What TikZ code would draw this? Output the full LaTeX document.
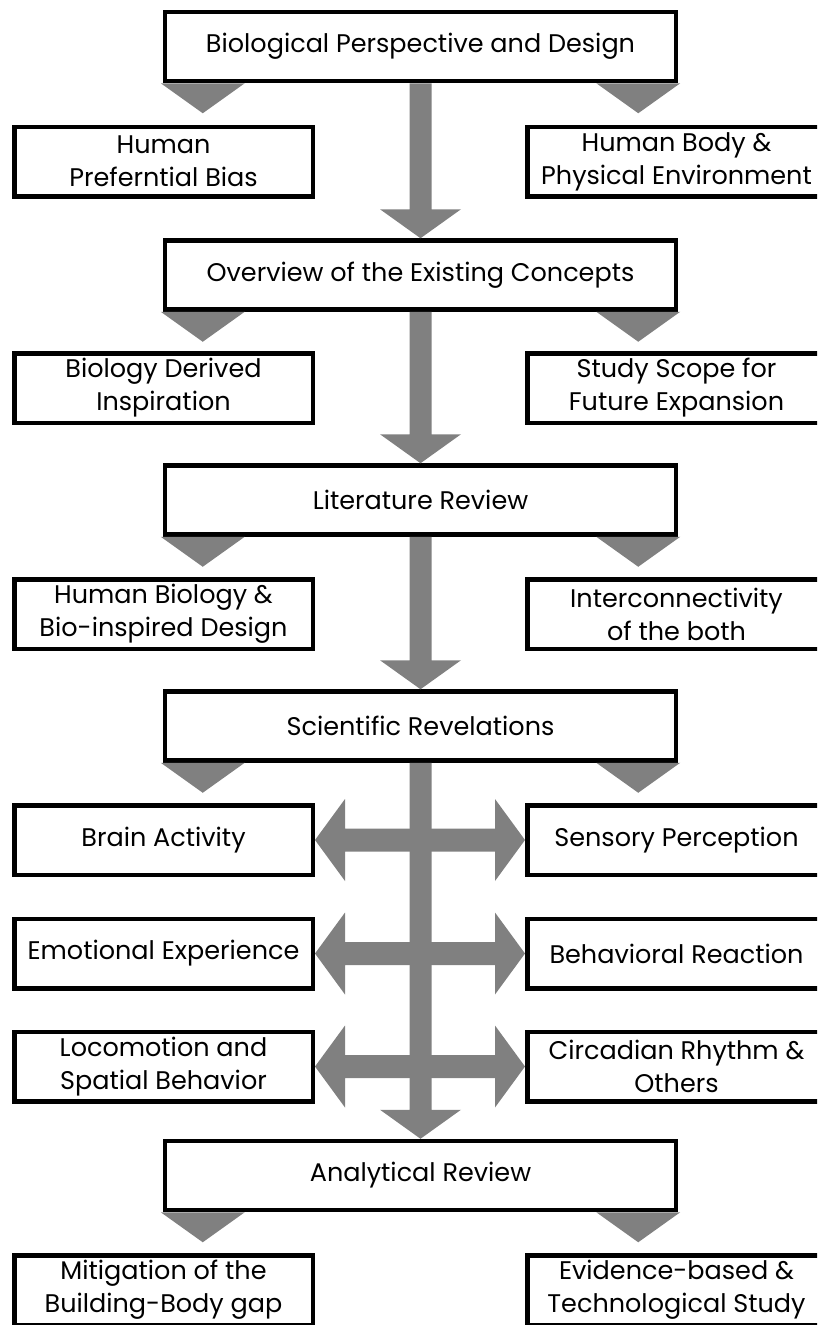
\documentclass[tikz,border=0pt]{standalone}
\usepackage{fontspec}
\setmainfont{Poppins}
\usetikzlibrary{calc}
\definecolor{flowgray}{HTML}{808080}

\begin{document}
\begin{tikzpicture}[x=1pt,y=-1pt,
    every node/.style={font=\fontsize{25.5}{33}\selectfont},
    mainbox/.style={draw,line width=4.5pt,fill=white,minimum width=511pt,minimum height=69pt,inner sep=0pt,align=center},
    sidebox/.style={draw,line width=4.5pt,fill=white,minimum width=298.5pt,minimum height=69.5pt,inner sep=0pt,align=center},
    flow/.style={fill=flowgray}]
        \useasboundingbox (0,0) rectangle (817,1325);
        \clip (0,0) rectangle (817,1325);
        % main column
        \node[mainbox] (bio) at (420.5,46.5) {Biological Perspective and Design};
        \node[mainbox] (overview) at (420.5,275) {Overview of the Existing Concepts};
        \node[mainbox] (litrev) at (420.5,500) {Literature Review};
        \node[mainbox] (scirev) at (420.5,726) {Scientific Revelations};
        \node[mainbox] (analytical) at (420.5,1175.5) {Analytical Review};
        % side boxes
        \node[sidebox] (prefbias) at (163.5,161.5) {Human\\Preferntial Bias};
        \node[sidebox] (bodyenv) at (676.5,161.5) {Human Body \&\\Physical Environment};
        \node[sidebox] (bioinsp) at (163.5,388) {Biology Derived\\Inspiration};
        \node[sidebox] (scope) at (676.5,388) {Study Scope for\\Future Expansion};
        \node[sidebox] (humbio) at (163.5,614) {Human Biology \&\\Bio-inspired Design};
        \node[sidebox] (interconn) at (676.5,614) {Interconnectivity\\of the both};
        \node[sidebox] (brain) at (163.5,840) {Brain Activity};
        \node[sidebox] (sensory) at (676.5,840) {Sensory Perception};
        \node[sidebox] (emotion) at (163.5,953.5) {Emotional Experience};
        \node[sidebox] (behavior) at (676.5,953.5) {Behavioral Reaction};
        \node[sidebox] (locomotion) at (163.5,1066.5) {Locomotion and\\Spatial Behavior};
        \node[sidebox] (circadian) at (676.5,1066.5) {Circadian Rhythm \&\\Others};
        \node[sidebox] (mitigation) at (163.5,1290) {Mitigation of the\\Building-Body gap};
        \node[sidebox] (evidence) at (676.5,1290) {Evidence-based \&\\Technological Study};
        % down arrows between main boxes
        \fill[flow] ($(bio.south)+(-11,0)$) -- ($(overview.north)+(-11,-29)$) -- ($(overview.north)+(-40.5,-29)$) -- (overview.north) -- ($(overview.north)+(40.5,-29)$) -- ($(overview.north)+(11,-29)$) -- ($(bio.south)+(11,0)$) -- cycle;
        \fill[flow] ($(overview.south)+(-11,0)$) -- ($(litrev.north)+(-11,-29)$) -- ($(litrev.north)+(-40.5,-29)$) -- (litrev.north) -- ($(litrev.north)+(40.5,-29)$) -- ($(litrev.north)+(11,-29)$) -- ($(overview.south)+(11,0)$) -- cycle;
        \fill[flow] ($(litrev.south)+(-11,0)$) -- ($(scirev.north)+(-11,-29)$) -- ($(scirev.north)+(-40.5,-29)$) -- (scirev.north) -- ($(scirev.north)+(40.5,-29)$) -- ($(scirev.north)+(11,-29)$) -- ($(litrev.south)+(11,0)$) -- cycle;
        \fill[flow] ($(scirev.south)+(-11,0)$) -- ($(analytical.north)+(-11,-29)$) -- ($(analytical.north)+(-40.5,-29)$) -- (analytical.north) -- ($(analytical.north)+(40.5,-29)$) -- ($(analytical.north)+(11,-29)$) -- ($(scirev.south)+(11,0)$) -- cycle;
        % small heads under each main box
        \fill[flow] ($(bio.south west)+(-2,0)$) -- ++(84,0) -- ++(-42,30) -- cycle;
        \fill[flow] ($(bio.south east)+(2,0)$) -- ++(-84,0) -- ++(42,30) -- cycle;
        \fill[flow] ($(overview.south west)+(-2,0)$) -- ++(84,0) -- ++(-42,30) -- cycle;
        \fill[flow] ($(overview.south east)+(2,0)$) -- ++(-84,0) -- ++(42,30) -- cycle;
        \fill[flow] ($(litrev.south west)+(-2,0)$) -- ++(84,0) -- ++(-42,30) -- cycle;
        \fill[flow] ($(litrev.south east)+(2,0)$) -- ++(-84,0) -- ++(42,30) -- cycle;
        \fill[flow] ($(scirev.south west)+(-2,0)$) -- ++(84,0) -- ++(-42,30) -- cycle;
        \fill[flow] ($(scirev.south east)+(2,0)$) -- ++(-84,0) -- ++(42,30) -- cycle;
        \fill[flow] ($(analytical.south west)+(-2,0)$) -- ++(84,0) -- ++(-42,30) -- cycle;
        \fill[flow] ($(analytical.south east)+(2,0)$) -- ++(-84,0) -- ++(42,30) -- cycle;
        % double arrows between paired boxes
        \fill[flow] (brain.east) -- ++(30,-41) -- ++(0,29.5) -- ($(sensory.west)+(-30,-11.5)$) -- ++(0,-29.5) -- (sensory.west) -- ++(-30,41) -- ++(0,-29.5) -- ($(brain.east)+(30,11.5)$) -- ++(0,29.5) -- cycle;
        \fill[flow] (emotion.east) -- ++(30,-41) -- ++(0,29.5) -- ($(behavior.west)+(-30,-11.5)$) -- ++(0,-29.5) -- (behavior.west) -- ++(-30,41) -- ++(0,-29.5) -- ($(emotion.east)+(30,11.5)$) -- ++(0,29.5) -- cycle;
        \fill[flow] (locomotion.east) -- ++(30,-41) -- ++(0,29.5) -- ($(circadian.west)+(-30,-11.5)$) -- ++(0,-29.5) -- (circadian.west) -- ++(-30,41) -- ++(0,-29.5) -- ($(locomotion.east)+(30,11.5)$) -- ++(0,29.5) -- cycle;
      \end{tikzpicture}
\end{document}
